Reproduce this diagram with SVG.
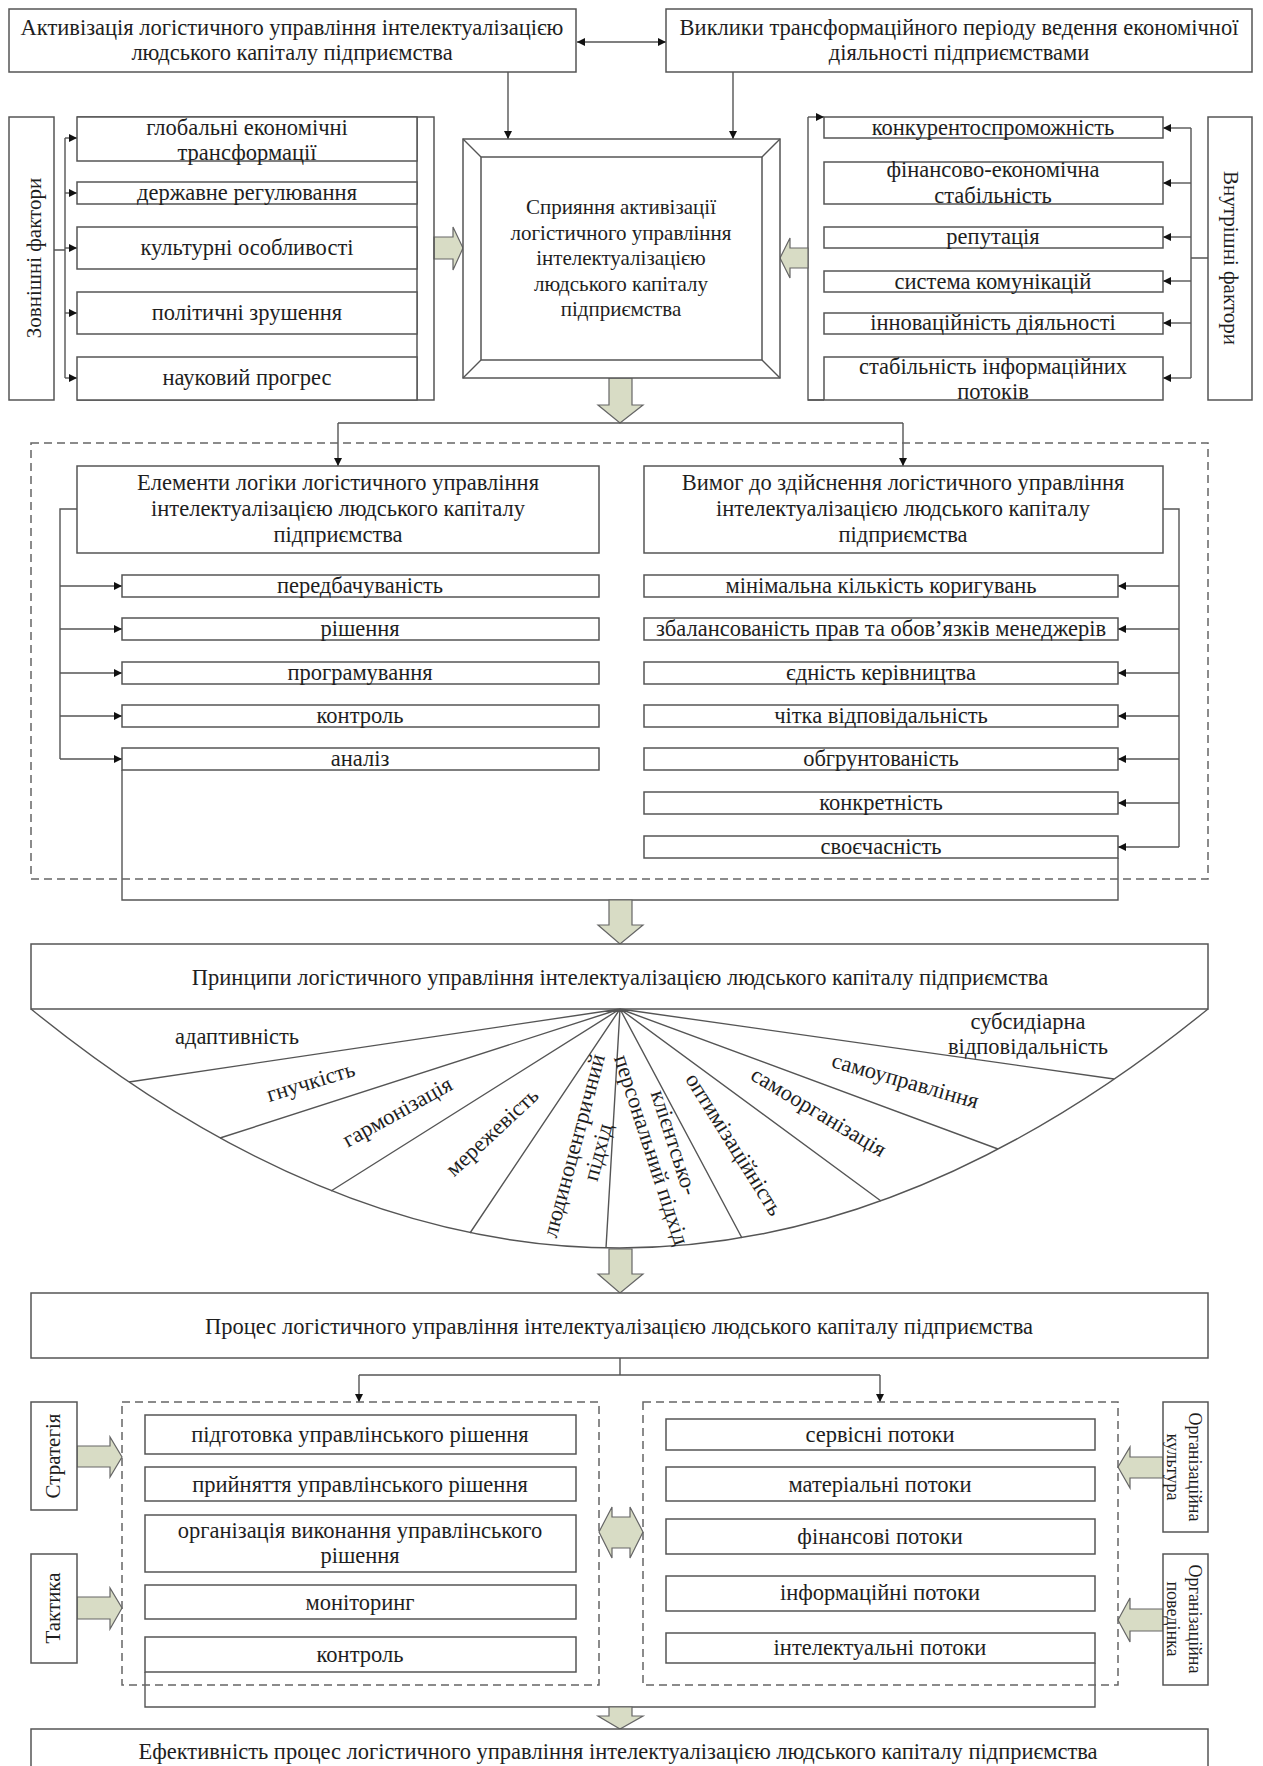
<svg xmlns="http://www.w3.org/2000/svg" width="1263" height="1766" viewBox="0 0 1263 1766">
<style>
.box{fill:#fff;stroke:#555;stroke-width:1.5}
.frm{fill:none;stroke:#555;stroke-width:1.5}
.ln{fill:none;stroke:#555;stroke-width:1.4}
.arr{fill:none;stroke:#555;stroke-width:1.4;marker-end:url(#ah)}
.dash{fill:none;stroke:#666;stroke-width:1.5;stroke-dasharray:8 5}
.blk{fill:#d8dcc5;stroke:#666;stroke-width:1.2;stroke-linejoin:miter}
text{font-family:"Liberation Serif","Times New Roman",serif;font-size:22.5px;fill:#1e1e1e;text-anchor:middle}
.s21{font-size:21px}
.s18{font-size:18px}
</style>
<defs>
<marker id="ah" viewBox="0 0 10 10" refX="10" refY="5" markerWidth="9" markerHeight="8" orient="auto-start-reverse" markerUnits="userSpaceOnUse">
<path d="M0,0 L10,5 L0,10 z" fill="#111"/>
</marker>
</defs>
<rect width="1263" height="1766" fill="#fff"/>

<g id="connectors">
<line class="arr" x1="577" y1="42" x2="666" y2="42" style="marker-start:url(#ah)"/>
<line class="arr" x1="508" y1="72" x2="508" y2="139"/>
<line class="arr" x1="733" y1="72" x2="733" y2="139"/>
<path class="ln" d="M54,250 H65 M65,138 V378"/>
<line class="arr" x1="65" y1="138" x2="77" y2="138"/>
<line class="arr" x1="65" y1="193" x2="77" y2="193"/>
<line class="arr" x1="65" y1="248" x2="77" y2="248"/>
<line class="arr" x1="65" y1="313" x2="77" y2="313"/>
<line class="arr" x1="65" y1="378" x2="77" y2="378"/>
<path class="ln" d="M824,400 H808 V117"/>
<line class="arr" x1="808" y1="117" x2="824" y2="117"/>
<path class="ln" d="M1208,258 H1191 M1191,128 V378"/>
<line class="arr" x1="1191" y1="128" x2="1163" y2="128"/>
<line class="arr" x1="1191" y1="183" x2="1163" y2="183"/>
<line class="arr" x1="1191" y1="237" x2="1163" y2="237"/>
<line class="arr" x1="1191" y1="281" x2="1163" y2="281"/>
<line class="arr" x1="1191" y1="323" x2="1163" y2="323"/>
<line class="arr" x1="1191" y1="378" x2="1163" y2="378"/>
<polygon class="blk" points="434,237 453,237 453,227 463,248 453,270 453,259 434,259"/>
<polygon class="blk" points="808,248 790,248 790,238 780,258 790,278 790,268 808,268"/>
<polygon class="blk" points="609,378 632,378 632,405 643,405 620,423 598,405 609,405"/>
<path class="ln" d="M338,423 H903"/>
<line class="arr" x1="338" y1="423" x2="338" y2="466"/>
<line class="arr" x1="903" y1="423" x2="903" y2="466"/>
<path class="ln" d="M77,509 H60 V759"/>
<line class="arr" x1="60" y1="586" x2="122" y2="586"/>
<line class="arr" x1="60" y1="629" x2="122" y2="629"/>
<line class="arr" x1="60" y1="673" x2="122" y2="673"/>
<line class="arr" x1="60" y1="716" x2="122" y2="716"/>
<line class="arr" x1="60" y1="759" x2="122" y2="759"/>
<path class="ln" d="M1163,509 H1179 V847"/>
<line class="arr" x1="1179" y1="586" x2="1118" y2="586"/>
<line class="arr" x1="1179" y1="629" x2="1118" y2="629"/>
<line class="arr" x1="1179" y1="673" x2="1118" y2="673"/>
<line class="arr" x1="1179" y1="716" x2="1118" y2="716"/>
<line class="arr" x1="1179" y1="759" x2="1118" y2="759"/>
<line class="arr" x1="1179" y1="803" x2="1118" y2="803"/>
<line class="arr" x1="1179" y1="847" x2="1118" y2="847"/>
<path class="ln" d="M122,770 V900 H1118 V858"/>
<polygon class="blk" points="609,900 632,900 632,925 643,925 620,944 598,925 609,925"/>
<polygon class="blk" points="609,1249 632,1249 632,1274 643,1274 620,1293 598,1274 609,1274"/>
<path class="ln" d="M620,1358 V1375 M359,1375 H880"/>
<line class="arr" x1="359" y1="1375" x2="359" y2="1402"/>
<line class="arr" x1="880" y1="1375" x2="880" y2="1402"/>
<polygon class="blk" points="77,1446 110,1446 110,1437 122,1457 110,1477 110,1467 77,1467"/>
<polygon class="blk" points="77,1597 110,1597 110,1588 122,1608 110,1629 110,1619 77,1619"/>
<polygon class="blk" points="599,1532 612,1507 612,1517 630,1517 630,1507 643,1532 630,1558 630,1548 612,1548 612,1558"/>
<polygon class="blk" points="1163,1457 1130,1457 1130,1447 1118,1467 1130,1488 1130,1478 1163,1478"/>
<polygon class="blk" points="1163,1609 1130,1609 1130,1598 1118,1620 1130,1642 1130,1631 1163,1631"/>
<path class="ln" d="M145,1672 V1707 H1095 V1663"/>
<polygon class="blk" points="609,1707 632,1707 632,1716 643,1716 620,1729 598,1716 609,1716"/>
</g>

<g id="n-activation">
<rect class="box" x="9" y="9" width="567" height="63"/>
<text x="292" y="35">Активізація логістичного управління інтелектуалізацією</text>
<text x="292" y="60">людського капіталу підприємства</text>
</g>
<g id="n-challenges">
<rect class="box" x="666" y="9" width="586" height="63"/>
<text x="959" y="35">Виклики трансформаційного періоду ведення економічної</text>
<text x="959" y="60">діяльності підприємствами</text>
</g>

<g id="n-external">
<rect class="box" x="9" y="117" width="45" height="283"/>
<text class="s21" transform="translate(41,258) rotate(-90)">Зовнішні фактори</text>
</g>
<g id="n-external-items">
<path class="frm" d="M77,117 H434 V400 H77 M417,117 V400"/>
<rect class="box" x="77" y="117" width="340" height="44"/>
<text x="247" y="135">глобальні економічні</text>
<text x="247" y="160">трансформації</text>
<rect class="box" x="77" y="182" width="340" height="22"/>
<text x="247" y="200">державне регулювання</text>
<rect class="box" x="77" y="227" width="340" height="42"/>
<text x="247" y="255">культурні особливості</text>
<rect class="box" x="77" y="292" width="340" height="42"/>
<text x="247" y="320">політичні зрушення</text>
<rect class="box" x="77" y="357" width="340" height="43"/>
<text x="247" y="385">науковий прогрес</text>
</g>

<g id="n-center">
<rect class="box" x="463" y="139" width="317" height="239"/>
<rect class="box" x="481" y="157" width="281" height="203"/>
<path class="ln" d="M463,139 L481,157 M780,139 L762,157 M463,378 L481,360 M780,378 L762,360"/>
<text class="s21" x="621" y="214">Сприяння активізації</text>
<text class="s21" x="621" y="240">логістичного управління</text>
<text class="s21" x="621" y="265">інтелектуалізацією</text>
<text class="s21" x="621" y="291">людського капіталу</text>
<text class="s21" x="621" y="316">підприємства</text>
</g>

<g id="n-internal-items">
<path class="ln" d="M808,400 H824"/>
<rect class="box" x="824" y="117" width="339" height="21"/>
<text x="993" y="135">конкурентоспроможність</text>
<rect class="box" x="824" y="162" width="339" height="42"/>
<text x="993" y="177">фінансово-економічна</text>
<text x="993" y="203">стабільність</text>
<rect class="box" x="824" y="227" width="339" height="21"/>
<text x="993" y="244">репутація</text>
<rect class="box" x="824" y="271" width="339" height="21"/>
<text x="993" y="289">система комунікацій</text>
<rect class="box" x="824" y="313" width="339" height="21"/>
<text x="993" y="330">інноваційність діяльності</text>
<rect class="box" x="824" y="357" width="339" height="43"/>
<text x="993" y="374">стабільність інформаційних</text>
<text x="993" y="399">потоків</text>
</g>
<g id="n-internal">
<rect class="box" x="1208" y="117" width="44" height="283"/>
<text class="s21" transform="translate(1224,258) rotate(90)">Внутрішні фактори</text>
</g>

<g id="g-middle">
<rect class="dash" x="31" y="443" width="1177" height="436"/>
</g>
<g id="n-elements">
<rect class="box" x="77" y="466" width="522" height="87"/>
<text x="338" y="490">Елементи логіки логістичного управління</text>
<text x="338" y="516">інтелектуалізацією людського капіталу</text>
<text x="338" y="542">підприємства</text>
</g>
<g id="n-elements-items">
<rect class="box" x="122" y="575" width="477" height="22"/>
<text x="360" y="593">передбачуваність</text>
<rect class="box" x="122" y="618" width="477" height="22"/>
<text x="360" y="636">рішення</text>
<rect class="box" x="122" y="662" width="477" height="22"/>
<text x="360" y="680">програмування</text>
<rect class="box" x="122" y="705" width="477" height="22"/>
<text x="360" y="723">контроль</text>
<rect class="box" x="122" y="748" width="477" height="22"/>
<text x="360" y="766">аналіз</text>
</g>
<g id="n-requirements">
<rect class="box" x="644" y="466" width="519" height="87"/>
<text x="903" y="490">Вимог до здійснення логістичного управління</text>
<text x="903" y="516">інтелектуалізацією людського капіталу</text>
<text x="903" y="542">підприємства</text>
</g>
<g id="n-requirements-items">
<rect class="box" x="644" y="575" width="474" height="22"/>
<text x="881" y="593">мінімальна кількість коригувань</text>
<rect class="box" x="644" y="618" width="474" height="22"/>
<text x="881" y="636">збалансованість прав та обов’язків менеджерів</text>
<rect class="box" x="644" y="662" width="474" height="22"/>
<text x="881" y="680">єдність керівництва</text>
<rect class="box" x="644" y="705" width="474" height="22"/>
<text x="881" y="723">чітка відповідальність</text>
<rect class="box" x="644" y="748" width="474" height="22"/>
<text x="881" y="766">обгрунтованість</text>
<rect class="box" x="644" y="792" width="474" height="22"/>
<text x="881" y="810">конкретність</text>
<rect class="box" x="644" y="836" width="474" height="22"/>
<text x="881" y="854">своєчасність</text>
</g>

<g id="n-principles">
<rect class="box" x="31" y="944" width="1177" height="65"/>
<text x="620" y="985">Принципи логістичного управління інтелектуалізацією людського капіталу підприємства</text>
<path class="ln" d="M31,1009 Q619.5,1487 1208,1009"/>
<path class="ln" d="M620,1009 L129,1082 M620,1009 L220,1138 M620,1009 L331,1191 M620,1009 L470,1233 M620,1009 L606,1248 M620,1009 L742,1238 M620,1009 L881,1201 M620,1009 L998,1149 M620,1009 L1114,1079"/>
<text x="237" y="1044">адаптивність</text>
<text transform="translate(311,1083) rotate(-17)" y="6">гнучкість</text>
<text transform="translate(398,1113) rotate(-29)" y="6">гармонізація</text>
<text transform="translate(493,1133) rotate(-43)" y="6">мережевість</text>
<g transform="translate(575,1146) rotate(-75)"><text y="6">людиноцентричний</text><text y="31">підхід</text></g>
<g transform="translate(673,1143) rotate(72)"><text y="6">клієнтсько-</text><text y="30">персональний підхід</text></g>
<text transform="translate(733,1145) rotate(58)" y="6">оптимізаційність</text>
<text transform="translate(818,1113) rotate(31)" y="6">самоорганізація</text>
<text transform="translate(905,1082) rotate(16)" y="6">самоуправління</text>
<text x="1028" y="1029">субсидіарна</text>
<text x="1028" y="1054">відповідальність</text>
</g>

<g id="n-process">
<rect class="box" x="31" y="1293" width="1177" height="65"/>
<text x="619" y="1334">Процес логістичного управління інтелектуалізацією людського капіталу підприємства</text>
</g>

<g id="n-strategy">
<rect class="box" x="31" y="1402" width="46" height="108"/>
<text class="s21" transform="translate(60,1456) rotate(-90)">Стратегія</text>
</g>
<g id="n-tactics">
<rect class="box" x="31" y="1554" width="46" height="109"/>
<text class="s21" transform="translate(60,1608) rotate(-90)">Тактика</text>
</g>

<g id="n-stages">
<rect class="dash" x="122" y="1402" width="477" height="283"/>
<rect class="box" x="145" y="1415" width="431" height="39"/>
<text x="360" y="1442">підготовка управлінського рішення</text>
<rect class="box" x="145" y="1467" width="431" height="34"/>
<text x="360" y="1492">прийняття управлінського рішення</text>
<rect class="box" x="145" y="1515" width="431" height="57"/>
<text x="360" y="1538">організація виконання управлінського</text>
<text x="360" y="1563">рішення</text>
<rect class="box" x="145" y="1585" width="431" height="34"/>
<text x="360" y="1610">моніторинг</text>
<rect class="box" x="145" y="1637" width="431" height="35"/>
<text x="360" y="1662">контроль</text>
</g>

<g id="n-flows">
<rect class="dash" x="643" y="1402" width="475" height="283"/>
<rect class="box" x="666" y="1419" width="429" height="31"/>
<text x="880" y="1442">сервісні потоки</text>
<rect class="box" x="666" y="1467" width="429" height="34"/>
<text x="880" y="1492">матеріальні потоки</text>
<rect class="box" x="666" y="1519" width="429" height="35"/>
<text x="880" y="1544">фінансові потоки</text>
<rect class="box" x="666" y="1576" width="429" height="35"/>
<text x="880" y="1600">інформаційні потоки</text>
<rect class="box" x="666" y="1633" width="429" height="30"/>
<text x="880" y="1655">інтелектуальні потоки</text>
</g>

<g id="n-culture">
<rect class="box" x="1163" y="1402" width="45" height="130"/>
<g transform="translate(1189,1467) rotate(90)"><text class="s18">Організаційна</text><text class="s18" y="22">культура</text></g>
</g>
<g id="n-behavior">
<rect class="box" x="1163" y="1554" width="45" height="131"/>
<g transform="translate(1189,1619) rotate(90)"><text class="s18">Організаційна</text><text class="s18" y="22">поведінка</text></g>
</g>

<g id="n-efficiency">
<rect class="box" x="31" y="1729" width="1177" height="50"/>
<text x="618" y="1759">Ефективність процес логістичного управління інтелектуалізацією людського капіталу підприємства</text>
</g>
</svg>
